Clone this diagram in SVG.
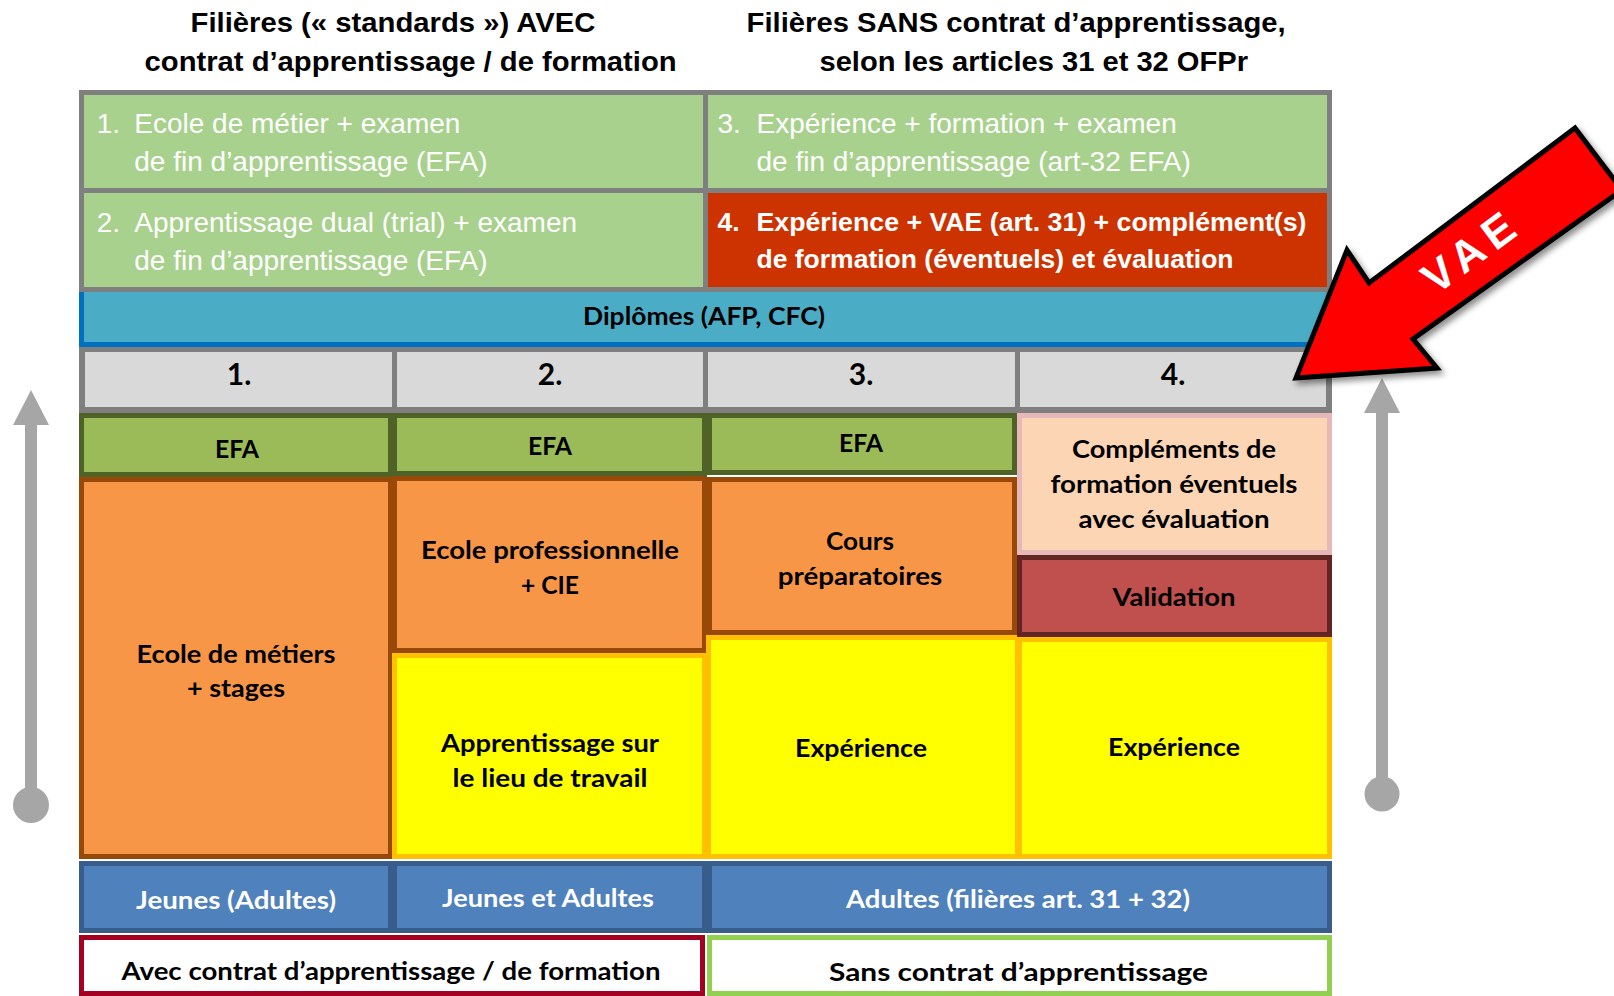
<svg xmlns="http://www.w3.org/2000/svg" width="1614" height="996" viewBox="0 0 1614 996">
<style>
.ar{font-family:"Liberation Sans",Arial,sans-serif}
.tb{font-family:"Liberation Sans",Arial,sans-serif;font-weight:bold;font-size:28px;fill:#000}
.rw{font-family:"Liberation Sans",Arial,sans-serif;font-size:28px;fill:#fff}
.rb{font-family:"Liberation Sans",Arial,sans-serif;font-weight:bold;font-size:26.5px;fill:#fff}
.c{font-family:Lato,"Open Sans",sans-serif;font-weight:bold;font-size:25px;fill:#000;text-anchor:middle;transform:translateY(1.5px)}
.cw{fill:#fff}
.num{font-size:30px}
.efa{fill:#9BBB59;stroke:#4F6228;stroke-width:5}
.org{fill:#F79646;stroke:#984807;stroke-width:5}
.yel{fill:#FFFF00;stroke:#FFC000;stroke-width:5}
.blu{fill:#4F81BD;stroke:#385D8A;stroke-width:5}
.gry{fill:#A6A6A6}
</style>
<defs>
<filter id="sh" x="-20%" y="-20%" width="140%" height="140%">
<feDropShadow dx="3" dy="4" stdDeviation="3" flood-color="#000" flood-opacity="0.45"/>
</filter>
</defs>
<rect width="1614" height="996" fill="#fff"/>

<g id="titles">
<text class="tb" x="190.5" y="32" textLength="405" lengthAdjust="spacingAndGlyphs">Filières (« standards ») AVEC</text>
<text class="tb" x="144.6" y="70.7" textLength="532" lengthAdjust="spacingAndGlyphs">contrat d’apprentissage / de formation</text>
<text class="tb" x="746.6" y="32" textLength="539" lengthAdjust="spacingAndGlyphs">Filières SANS contrat d’apprentissage,</text>
<text class="tb" x="819.5" y="70.5" textLength="428.5" lengthAdjust="spacingAndGlyphs">selon les articles 31 et 32 OFPr</text>
</g>

<g id="top-table">
<rect x="79" y="90" width="1253" height="202" fill="#7F7F7F"/>
<g id="filiere1">
<rect x="84" y="95" width="619" height="93" fill="#A9D18E"/>
<text class="rw" x="96.7" y="133.3">1.</text>
<text class="rw" x="134.3" y="133.3">Ecole de métier + examen</text>
<text class="rw" x="134.3" y="170.7">de fin d’apprentissage (EFA)</text>
</g>
<g id="filiere3">
<rect x="708" y="95" width="619" height="93" fill="#A9D18E"/>
<text class="rw" x="717.5" y="133.3">3.</text>
<text class="rw" x="756.5" y="133.3">Expérience + formation + examen</text>
<text class="rw" x="756.5" y="171">de fin d’apprentissage (art-32 EFA)</text>
</g>
<g id="filiere2">
<rect x="84" y="193" width="619" height="94" fill="#A9D18E"/>
<text class="rw" x="96.7" y="231.7">2.</text>
<text class="rw" x="134.3" y="231.7">Apprentissage dual (trial) + examen</text>
<text class="rw" x="134.3" y="270">de fin d’apprentissage (EFA)</text>
</g>
<g id="filiere4">
<rect x="708" y="193" width="619" height="94" fill="#CC3300"/>
<text class="rb" x="717.5" y="230.7">4.</text>
<text class="rb" x="756.5" y="230.7" textLength="550" lengthAdjust="spacingAndGlyphs">Expérience + VAE (art. 31) + complément(s)</text>
<text class="rb" x="756.5" y="268.3" textLength="477" lengthAdjust="spacingAndGlyphs">de formation (éventuels) et évaluation</text>
</g>
</g>

<g id="diplomes">
<rect x="79" y="292" width="1247" height="55" fill="#4BACC6"/>
<rect x="79" y="292" width="5" height="55" fill="#0070C0"/>
<rect x="79" y="342" width="1247" height="5" fill="#0070C0"/>
<rect x="1326" y="292" width="6" height="55" fill="#7F7F7F"/>
<text class="c" x="704" y="323" textLength="242" lengthAdjust="spacingAndGlyphs">Diplômes (AFP, CFC)</text>
</g>

<g id="numbers">
<rect x="79" y="347" width="1253" height="66" fill="#7F7F7F"/>
<rect x="85" y="352" width="307" height="55" fill="#D9D9D9"/>
<rect x="397" y="352" width="306" height="55" fill="#D9D9D9"/>
<rect x="708" y="352" width="307" height="55" fill="#D9D9D9"/>
<rect x="1020" y="352" width="306" height="55" fill="#D9D9D9"/>
<text class="c num" x="239" y="383">1.</text>
<text class="c num" x="550" y="383">2.</text>
<text class="c num" x="861" y="383">3.</text>
<text class="c num" x="1173" y="383">4.</text>
</g>

<g id="col1">
<g id="c1-efa"><rect class="efa" x="81.5" y="415.5" width="309" height="59"/>
<text class="c" x="237" y="456" textLength="44" lengthAdjust="spacingAndGlyphs">EFA</text></g>
<g id="c1-ecole"><rect class="org" x="81.5" y="479.5" width="309" height="377"/>
<text class="c" x="236" y="661" textLength="199" lengthAdjust="spacingAndGlyphs">Ecole de métiers</text>
<text class="c" x="236" y="695" textLength="98" lengthAdjust="spacingAndGlyphs">+ stages</text></g>
</g>

<g id="col2">
<g id="c2-efa"><rect class="efa" x="394.5" y="415.5" width="310" height="58"/>
<text class="c" x="550" y="453" textLength="44" lengthAdjust="spacingAndGlyphs">EFA</text></g>
<g id="c2-ecole"><rect class="org" x="394.5" y="478.5" width="310" height="172"/>
<text class="c" x="550" y="557" textLength="258" lengthAdjust="spacingAndGlyphs">Ecole professionnelle</text>
<text class="c" x="550" y="592" textLength="58" lengthAdjust="spacingAndGlyphs">+ CIE</text></g>
<g id="c2-apprentissage"><rect class="yel" x="394.5" y="655.5" width="310" height="201"/>
<text class="c" x="550" y="750" textLength="218" lengthAdjust="spacingAndGlyphs">Apprentissage sur</text>
<text class="c" x="550" y="785" textLength="195" lengthAdjust="spacingAndGlyphs">le lieu de travail</text></g>
</g>

<g id="col3">
<g id="c3-efa"><rect class="efa" x="709.5" y="415.5" width="305" height="57"/>
<text class="c" x="861" y="450" textLength="44" lengthAdjust="spacingAndGlyphs">EFA</text></g>
<g id="c3-cours"><rect class="org" x="709.5" y="479.5" width="305" height="153"/>
<text class="c" x="860" y="548" textLength="68" lengthAdjust="spacingAndGlyphs">Cours</text>
<text class="c" x="860" y="583" textLength="164.5" lengthAdjust="spacingAndGlyphs">préparatoires</text></g>
<g id="c3-experience"><rect class="yel" x="708.5" y="637.5" width="309" height="219"/>
<text class="c" x="861" y="755" textLength="132" lengthAdjust="spacingAndGlyphs">Expérience</text></g>
</g>

<g id="col4">
<g id="c4-complements"><rect x="1019.5" y="415.5" width="310" height="137" fill="#FCD5B5" stroke="#E6B9B8" stroke-width="5"/>
<text class="c" x="1174" y="456" textLength="204" lengthAdjust="spacingAndGlyphs">Compléments de</text>
<text class="c" x="1174" y="491" textLength="247" lengthAdjust="spacingAndGlyphs">formation éventuels</text>
<text class="c" x="1174" y="526" textLength="191" lengthAdjust="spacingAndGlyphs">avec évaluation</text></g>
<g id="c4-validation"><rect x="1019.5" y="557.5" width="310" height="77" fill="#C0504D" stroke="#632523" stroke-width="5"/>
<text class="c" x="1174" y="604" textLength="123" lengthAdjust="spacingAndGlyphs">Validation</text></g>
<g id="c4-experience"><rect class="yel" x="1019.5" y="639.5" width="310" height="217"/>
<text class="c" x="1174" y="754" textLength="132" lengthAdjust="spacingAndGlyphs">Expérience</text></g>
</g>

<g id="publics">
<g id="p1"><rect class="blu" x="81.5" y="863.5" width="309" height="67"/>
<text class="c cw" x="236" y="907" textLength="200" lengthAdjust="spacingAndGlyphs">Jeunes (Adultes)</text></g>
<g id="p2"><rect class="blu" x="394.5" y="863.5" width="310" height="67"/>
<text class="c cw" x="548" y="905" textLength="212" lengthAdjust="spacingAndGlyphs">Jeunes et Adultes</text></g>
<g id="p34"><rect class="blu" x="709.5" y="863.5" width="620" height="67" stroke="#243F60"/>
<text class="c cw" x="1018" y="906" textLength="344" lengthAdjust="spacingAndGlyphs">Adultes (filières art. 31 + 32)</text></g>
</g>

<g id="contrats">
<g id="avec"><rect x="81.5" y="937.5" width="621" height="56" fill="#fff" stroke="#A50021" stroke-width="5"/>
<text class="c" x="391" y="978" textLength="539" lengthAdjust="spacingAndGlyphs">Avec contrat d’apprentissage / de formation</text></g>
<g id="sans"><rect x="709.5" y="937.5" width="620" height="56" fill="#fff" stroke="#92D050" stroke-width="5"/>
<text class="c" x="1018.5" y="979" textLength="379" lengthAdjust="spacingAndGlyphs">Sans contrat d’apprentissage</text></g>
</g>

<g id="connectors">
<g id="arrow-left" class="gry">
<rect x="25" y="420" width="12" height="385"/>
<polygon points="13,425 49,425 31,390"/>
<circle cx="31" cy="805" r="18"/>
</g>
<g id="arrow-right" class="gry">
<rect x="1376" y="408" width="12" height="386"/>
<polygon points="1364,413 1400,413 1382,378"/>
<circle cx="1382" cy="794" r="17.5"/>
</g>
<g id="arrow-vae">
<polygon points="1296,378 1347,250 1369,283 1575,128 1622,190 1413,339 1437,368" fill="#FF0000" stroke="#000" stroke-width="5" stroke-linejoin="miter" filter="url(#sh)"/>
<text class="ar" transform="translate(1468,252) rotate(-36.5)" x="4" y="16" text-anchor="middle" font-weight="bold" font-size="44" letter-spacing="8" fill="#fff">VAE</text>
</g>
</g>
</svg>
